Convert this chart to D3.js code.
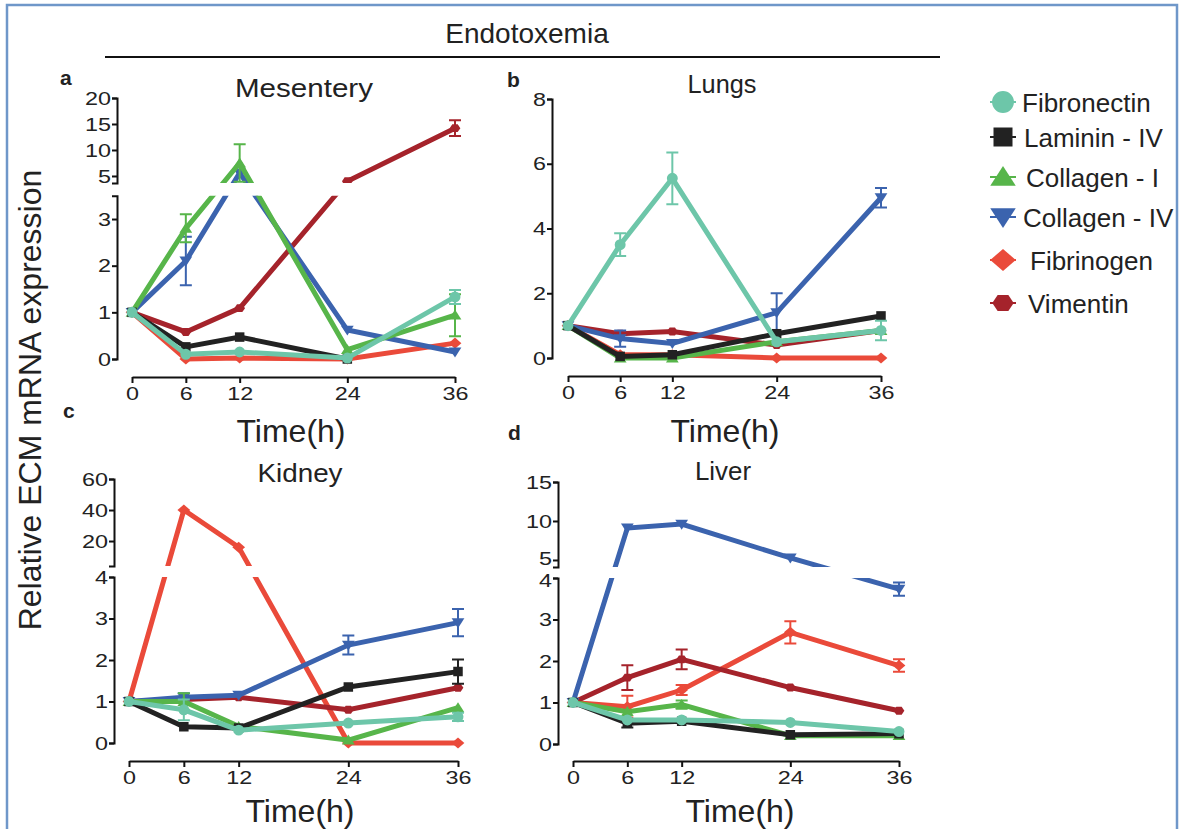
<!DOCTYPE html>
<html>
<head>
<meta charset="utf-8">
<script src="https://cdn.jsdelivr.net/npm/d3@7"></script>
<style>
  body { margin: 0; background: #fff; }
  svg text { font-family: "Liberation Sans", Arial, sans-serif; fill: #222; }
</style>
</head>
<body>
<svg id="chart" width="1180" height="829"></svg>
<script>
// time points (h)
const times = [0, 6, 12, 24, 36];
const seriesNames = ['Fibronectin', 'Laminin - IV', 'Collagen - I', 'Collagen - IV', 'Fibrinogen', 'Vimentin'];

// rows follow seriesNames order
const mesenteryValues = [
    [1, 0.1, 0.15, 0.02, 1.33],
    [1, 0.26, 0.47, 0.0, null],
    [1, 2.8, 7.5, 0.2, 0.94],
    [1, 2.1, 5.6, 0.62, 0.15],
    [1, 0.0, 0.02, 0.0, 0.34],
    [1, 0.58, 1.09, 4.0, 14.2]
];
const mesenteryErrors = [
    [0, 0, 0, 0, 0.15],
    [0, 0, 0, 0, 0],
    [0, 0.3, 3.6, 0, 0.45],
    [0, 0.52, 0, 0, 0],
    [0, 0, 0, 0, 0],
    [0, 0, 0, 0, 1.5]
];

const lungsValues = [
    [1, 3.5, 5.55, 0.5, 0.85],
    [1, 0.05, 0.1, 0.75, 1.3],
    [1, 0.0, 0.0, 0.5, 0.85],
    [1, 0.6, 0.45, 1.4, 4.95],
    [1, 0.1, 0.1, 0.0, 0.0],
    [1, 0.75, 0.82, 0.4, 0.85]
];
const lungsErrors = [
    [0, 0.35, 0.8, 0, 0.3],
    [0, 0, 0, 0, 0],
    [0, 0, 0, 0, 0],
    [0, 0.25, 0, 0.6, 0.3],
    [0, 0, 0, 0, 0],
    [0, 0, 0, 0, 0]
];

const kidneyValues = [
    [1, 0.8, 0.31, 0.48, 0.63],
    [1, 0.39, 0.36, 1.35, 1.72],
    [1, 1.0, 0.4, 0.07, 0.85],
    [1, 1.1, 1.15, 2.36, 2.9],
    [1, 40, 16, 0.0, 0.0],
    [1, 1.05, 1.1, 0.8, 1.33]
];
const kidneyErrors = [
    [0, 0.25, 0, 0, 0.1],
    [0, 0, 0, 0, 0.29],
    [0, 0.2, 0, 0, 0],
    [0, 0.1, 0, 0.23, 0.33],
    [0, 0, 0, 0, 0],
    [0, 0, 0, 0, 0]
];

const liverValues = [
    [1, 0.58, 0.58, 0.52, 0.3],
    [1, 0.5, 0.55, 0.22, 0.25],
    [1, 0.78, 0.95, 0.2, 0.2],
    [1, 9.1, 9.6, 5.26, 3.73],
    [1, 0.9, 1.3, 2.69, 1.89],
    [1, 1.6, 2.04, 1.36, 0.8]
];
const liverErrors = [
    [0, 0, 0, 0, 0],
    [0, 0.1, 0, 0, 0],
    [0, 0, 0.1, 0, 0],
    [0, 0, 0, 0, 0.16],
    [0, 0.26, 0.12, 0.27, 0.15],
    [0, 0.3, 0.24, 0, 0]
];

// tick labels
const mesenteryLowTicks = [0, 1, 2, 3];
const mesenteryHighTicks = [5, 10, 15, 20];
const lungsTicks = [0, 2, 4, 6, 8];
const kidneyLowTicks = [0, 1, 2, 3, 4];
const kidneyHighTicks = [20, 40, 60];
const liverLowTicks = [0, 1, 2, 3, 4];
const liverHighTicks = [5, 10, 15];

const colors = ['#6dc6a9', '#222222', '#57b54a', '#3b63ae', '#ea4a3a', '#a5232b'];
const drawOrder = [4, 5, 3, 2, 1, 0];

const svg = d3.select('#chart');

// frame
svg.append('path')
    .attr('d', 'M7,829V5H1177V829')
    .attr('fill', 'none')
    .attr('stroke', '#6f97c9')
    .attr('stroke-width', 2.5);

svg.append('text')
    .attr('x', 527).attr('y', 43)
    .attr('text-anchor', 'middle')
    .attr('font-size', 28)
    .text('Endotoxemia');
svg.append('line')
    .attr('x1', 105).attr('x2', 940)
    .attr('y1', 57).attr('y2', 57)
    .attr('stroke', '#111').attr('stroke-width', 2);

svg.append('text')
    .attr('transform', 'translate(41,400) rotate(-90)')
    .attr('text-anchor', 'middle')
    .attr('font-size', 32)
    .attr('fill', '#333')
    .text('Relative ECM mRNA expression');

// marker shapes, scaled by k
function markerPath(i, k) {
    if (i === 0) return d3.symbol().type(d3.symbolCircle).size(130 * k * k)();
    if (i === 1) return d3.symbol().type(d3.symbolSquare).size(125 * k * k)();
    if (i === 2 || i === 3) {
        const w = 7.5 * k, h = 6.5 * k;
        return `M0,${-h}L${w},${h * 0.8}L${-w},${h * 0.8}Z`;
    }
    if (i === 4) {
        const w = 7.5 * k, h = 6.5 * k;
        return `M${-w},0L0,${-h}L${w},0L0,${h}Z`;
    }
    const r = 6.3 * k;
    const pts = d3.range(6).map(j => {
        const a = Math.PI / 3 * j;
        return [r * Math.cos(a), r * 0.85 * Math.sin(a)];
    });
    return 'M' + pts.map(p => p.join(',')).join('L') + 'Z';
}

const panels = [
    {letter: 'a', title: 'Mesentery', titleW: 138, values: mesenteryValues, errors: mesenteryErrors,
     axisX: 117, x0: 132, x1: 455, xAxisY: 377,
     low: {domain: [0, 3.5], range: [359, 195.7], ticks: mesenteryLowTicks},
     high: {domain: [3.65, 20], range: [183, 98], ticks: mesenteryHighTicks},
     labelNudge: 0,
     titleX: 304, titleY: 97, letterX: 60, letterY: 85, timeX: 291, timeY: 442},
    {letter: 'b', title: 'Lungs', titleW: 69, values: lungsValues, errors: lungsErrors,
     axisX: 552, x0: 568, x1: 881, xAxisY: 376,
     low: {domain: [0, 8], range: [358, 99], ticks: lungsTicks},
     high: null,
     labelNudge: 0,
     titleX: 722, titleY: 93, letterX: 507, letterY: 87, timeX: 725, timeY: 442},
    {letter: 'c', title: 'Kidney', titleW: 85, values: kidneyValues, errors: kidneyErrors,
     axisX: 114, x0: 129, x1: 458, xAxisY: 761,
     low: {domain: [0, 4], range: [743, 577], ticks: kidneyLowTicks},
     high: {domain: [3.9, 60], range: [566, 479], ticks: kidneyHighTicks},
     labelNudge: 0,
     titleX: 300, titleY: 482, letterX: 63, letterY: 418, timeX: 300, timeY: 822},
    {letter: 'd', title: 'Liver', titleW: 56, values: liverValues, errors: liverErrors,
     axisX: 558, x0: 573, x1: 899, xAxisY: 761,
     low: {domain: [0, 4], range: [744, 578], ticks: liverLowTicks},
     high: {domain: [4.1, 15], range: [567, 482], ticks: liverHighTicks},
     labelNudge: 2,
     titleX: 723, titleY: 480, letterX: 508, letterY: 440, timeX: 740, timeY: 822}
];

const axisStyle = sel => {
    sel.selectAll('path, line').attr('stroke', '#111').attr('stroke-width', 2);
    sel.selectAll('text')
        .attr('font-size', 19)
        .attr('fill', '#222')
        .attr('font-family', '"Liberation Sans", Arial, sans-serif')
        .attr('textLength', function() { return this.textContent.length * 13; })
        .attr('lengthAdjust', 'spacingAndGlyphs');
};

panels.forEach((p, pi) => {
    const g = svg.append('g');
    const x = d3.scaleLinear().domain([0, 36]).range([p.x0, p.x1]);
    const yLow = d3.scaleLinear().domain(p.low.domain).range(p.low.range);
    const yHigh = p.high ? d3.scaleLinear().domain(p.high.domain).range(p.high.range) : null;
    const y = v => (yHigh && v > p.low.domain[1]) ? yHigh(v) : yLow(v);

    // clip out the axis break
    const clipId = 'clip' + pi;
    const clip = svg.append('clipPath').attr('id', clipId);
    if (yHigh) {
        clip.append('rect').attr('x', 0).attr('y', 0).attr('width', 1180).attr('height', p.high.range[0]);
        clip.append('rect').attr('x', 0).attr('y', p.low.range[1]).attr('width', 1180).attr('height', 829 - p.low.range[1]);
    } else {
        clip.append('rect').attr('x', 0).attr('y', 0).attr('width', 1180).attr('height', 829);
    }

    // axes
    const lowAxis = g.append('g')
        .attr('transform', `translate(${p.axisX},0)`)
        .call(d3.axisLeft(yLow).tickValues(p.low.ticks).tickFormat(d3.format('d'))
            .tickSize(5).tickSizeOuter(5).tickPadding(1))
        .call(axisStyle);
    if (yHigh) {
        const highAxis = g.append('g')
            .attr('transform', `translate(${p.axisX},0)`)
            .call(d3.axisLeft(yHigh).tickValues(p.high.ticks).tickFormat(d3.format('d'))
                .tickSize(5).tickSizeOuter(5).tickPadding(1))
            .call(axisStyle);
        // keep the labels either side of the break apart
        const lowMax = d3.max(p.low.ticks), highMin = d3.min(p.high.ticks);
        lowAxis.selectAll('.tick').filter(d => d === lowMax).select('text')
            .attr('y', p.labelNudge);
        highAxis.selectAll('.tick').filter(d => d === highMin).select('text')
            .attr('y', -p.labelNudge);
    }
    g.append('g')
        .attr('transform', `translate(0,${p.xAxisY})`)
        .call(d3.axisBottom(x).tickValues(times).tickSize(6).tickSizeOuter(0).tickPadding(4))
        .call(axisStyle);

    // texts
    g.append('text').attr('x', p.titleX).attr('y', p.titleY)
        .attr('text-anchor', 'middle').attr('font-size', 26)
        .attr('textLength', p.titleW).attr('lengthAdjust', 'spacingAndGlyphs')
        .text(p.title);
    g.append('text').attr('x', p.letterX).attr('y', p.letterY)
        .attr('font-size', 21).attr('font-weight', 'bold').text(p.letter);
    g.append('text').attr('x', p.timeX).attr('y', p.timeY)
        .attr('text-anchor', 'middle').attr('font-size', 32).text('Time(h)');

    const plot = g.append('g').attr('clip-path', `url(#${clipId})`);
    const line = d3.line()
        .defined(d => d[1] !== null)
        .x(d => x(d[0]))
        .y(d => y(d[1]));

    drawOrder.forEach(si => {
        const pts = times.map((t, k) => [t, p.values[si][k], p.errors[si][k]]);
        const sg = plot.append('g');
        sg.append('path')
            .datum(pts)
            .attr('d', line)
            .attr('fill', 'none')
            .attr('stroke', colors[si])
            .attr('stroke-width', 5);

        pts.filter(d => d[1] !== null && d[2] > 0).forEach(d => {
            const xt = x(d[0]);
            const ya = y(d[1] + d[2]);
            const yb = y(Math.max(0, d[1] - d[2]));
            sg.append('path')
                .attr('d', `M${xt - 6},${ya}H${xt + 6}M${xt},${ya}V${yb}M${xt - 6},${yb}H${xt + 6}`)
                .attr('fill', 'none')
                .attr('stroke', colors[si])
                .attr('stroke-width', 2);
        });

        sg.selectAll('.mk')
            .data(pts.filter(d => d[1] !== null))
            .enter()
            .append('path')
            .attr('transform', d => `translate(${x(d[0])},${y(d[1])})` + (si === 3 ? ' rotate(180)' : ''))
            .attr('d', markerPath(si, 0.85))
            .attr('fill', colors[si]);
    });
});

// legend
const legendY = [102, 137, 177, 217, 260, 303];
const legendTextX = [1022, 1024, 1026, 1023, 1030, 1028];
const legend = svg.append('g');
seriesNames.forEach((name, i) => {
    const cy = legendY[i];
    legend.append('line')
        .attr('x1', 990).attr('x2', 1016)
        .attr('y1', cy).attr('y2', cy)
        .attr('stroke', colors[i]).attr('stroke-width', 2);
    legend.append('path')
        .attr('transform', `translate(1003,${cy})` + (i === 3 ? ' rotate(180)' : ''))
        .attr('d', markerPath(i, 1.7))
        .attr('fill', colors[i]);
    legend.append('text')
        .attr('x', legendTextX[i])
        .attr('y', cy + 10)
        .attr('font-size', 26)
        .attr('fill', '#2a2a2a')
        .text(name);
});
</script>
</body>
</html>
